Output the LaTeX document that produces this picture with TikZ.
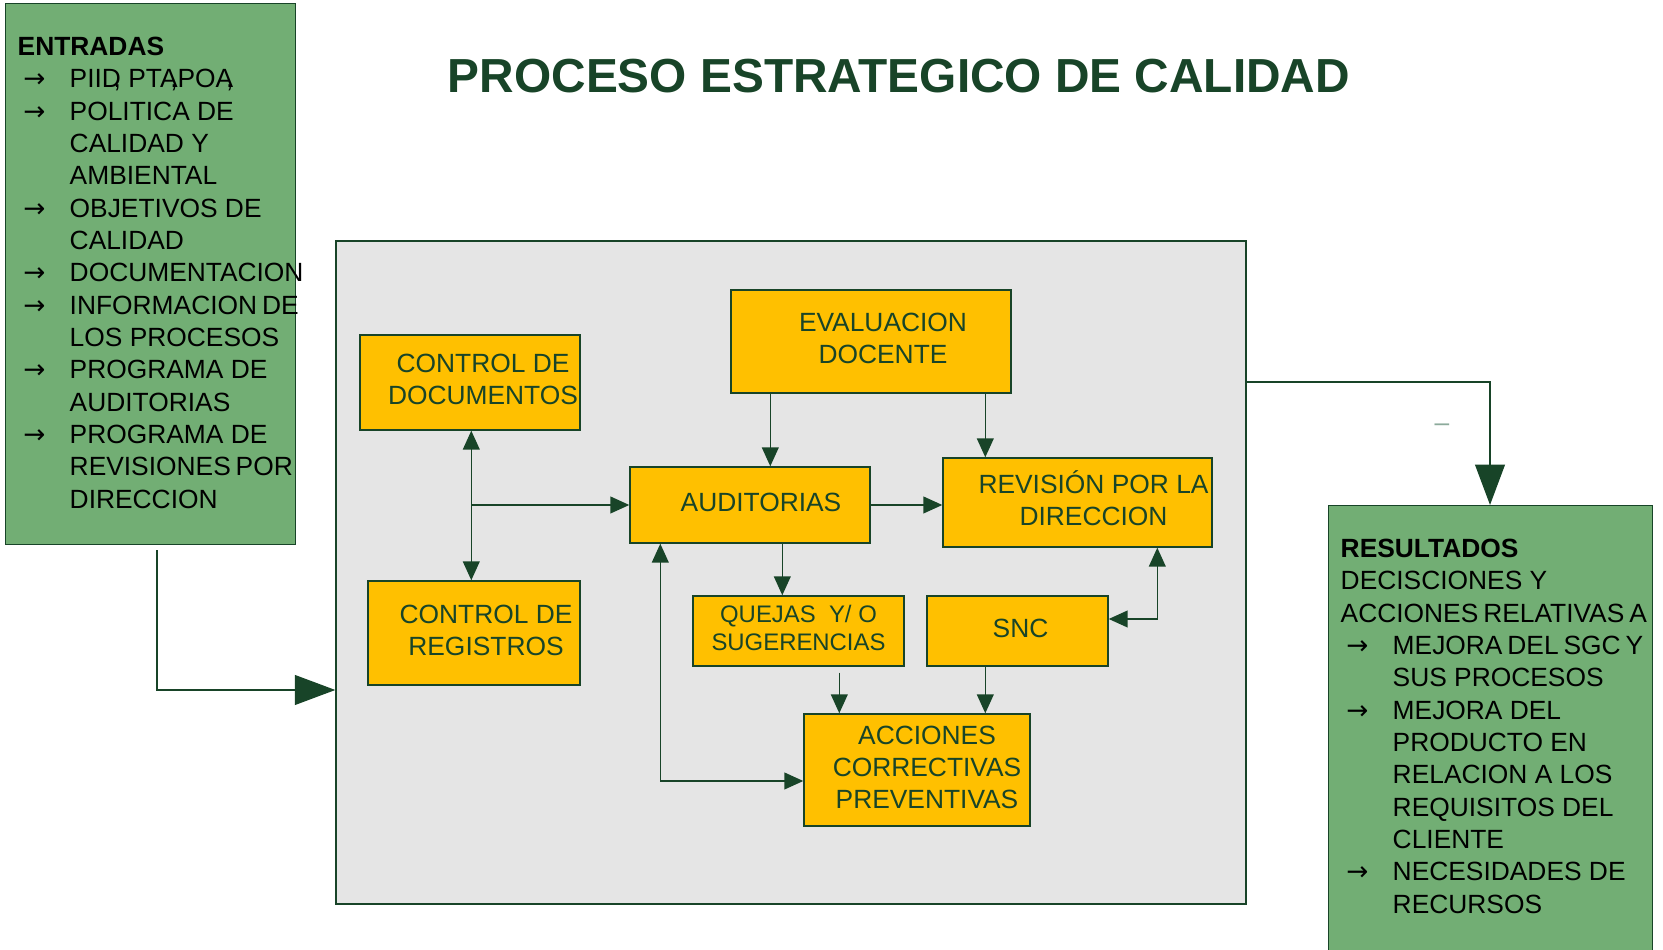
\documentclass[tikz,border=0pt]{standalone}
\usepackage{fontspec}
\setmainfont{Liberation Sans}
\newfontfamily\simbolos{DejaVu Sans}
\usetikzlibrary{arrows.meta}
\definecolor{verdeoscuro}{RGB}{24,68,40}
\definecolor{naranja}{RGB}{255,192,0}
\definecolor{verdecaja}{RGB}{114,174,116}
\definecolor{grisfondo}{RGB}{229,229,229}
\definecolor{grisguion}{RGB}{140,170,155}
\hyphenpenalty=10000
\newcommand{\flecha}{\makebox[14.8pt][l]{\hspace{1.6pt}{\simbolos →}}}
\newcommand{\sangria}{\hspace*{14.8pt}}
\newcommand{\texto}[2][0.24cm]{\hspace*{#1}\begin{tabular}{@{}c@{}}\rule{0pt}{\dimexpr 0.7\baselineskip+1.7pt\relax}#2\end{tabular}}

\begin{document}
\begin{tikzpicture}[
    >={Triangle[length=5.4pt,width=4.8pt]},
    caja/.style={draw=verdeoscuro, fill=naranja, line width=0.4pt, text=verdeoscuro, inner sep=0pt, font=\fontsize{7.5}{9.1}\selectfont},
    lista/.style={draw=verdeoscuro, fill=verdecaja, line width=0.4pt, anchor=north west, inner xsep=0.12cm, inner ysep=0.335cm, font=\fontsize{7.5}{9.2}\selectfont},
    conector/.style={draw=verdeoscuro, line width=0.4pt, ->},
    doble/.style={draw=verdeoscuro, line width=0.4pt, <->},
    grande/.style={draw=verdeoscuro, line width=0.4pt, -{Triangle[length=11.5pt,width=8.5pt]}}
  ]
  \useasboundingbox (0,0) rectangle (16.63,9.50);

  % 标题
  \node[font=\bfseries\fontsize{13.6}{16}\selectfont, text=verdeoscuro] (titulo) at (8.99,8.74) {PROCESO ESTRATEGICO DE CALIDAD};

  % 左侧 entradas
  \node[lista] (entradas) at (0.05,9.47) {\begin{minipage}[t][4.74cm][t]{2.66cm}
    \textbf{ENTRADAS}\\
    \flecha PIID\llap{,}~PTA\llap{,}POA\llap{,}\\
    \flecha POLITICA~DE\\
    \sangria CALIDAD~Y\\
    \sangria AMBIENTAL\\
    \flecha OBJETIVOS~DE\\
    \sangria CALIDAD\\
    \flecha DOCUMENTACION\\
    \flecha INFORMACION~DE\\
    \sangria LOS~PROCESOS\\
    \flecha PROGRAMA~DE\\
    \sangria AUDITORIAS\\
    \flecha PROGRAMA~DE\\
    \sangria REVISIONES~POR\\
    \sangria DIRECCION
  \end{minipage}};

  % 右侧 resultados
  \node[lista] (resultados) at (13.28,4.45) {\begin{minipage}[t][4.6cm][t]{3.0cm}
    \textbf{RESULTADOS}\\
    DECISCIONES~Y\\
    ACCIONES~RELATIVAS~A\\
    \flecha MEJORA~DEL~SGC~Y\\
    \sangria SUS~PROCESOS\\
    \flecha MEJORA~DEL\\
    \sangria PRODUCTO~EN\\
    \sangria RELACION~A~LOS\\
    \sangria REQUISITOS~DEL\\
    \sangria CLIENTE\\
    \flecha NECESIDADES~DE\\
    \sangria RECURSOS
  \end{minipage}};

  % 中间灰色框
  \node[draw=verdeoscuro, fill=grisfondo, line width=0.4pt, minimum width=9.10cm, minimum height=6.63cm] (proceso) at (7.91,3.775) {};

  % 橙色框
  \node[caja, minimum width=2.20cm, minimum height=0.95cm] (ctrldoc) at (4.70,5.675) {\texto[0.26cm]{CONTROL DE\\DOCUMENTOS}};
  \node[caja, minimum width=2.80cm, minimum height=1.03cm] (eval) at (8.71,6.085) {\texto{EVALUACION\\DOCENTE}};
  \node[caja, minimum width=2.40cm, minimum height=0.76cm] (aud) at (7.50,4.45) {\texto[0.22cm]{AUDITORIAS}};
  \node[caja, minimum width=2.69cm, minimum height=0.89cm] (rev) at (10.775,4.475) {\texto[0.32cm]{REVISIÓN POR LA\\DIRECCION}};
  \node[caja, minimum width=2.12cm, minimum height=1.04cm] (ctrlreg) at (4.74,3.17) {\texto{CONTROL DE\\REGISTROS}};
  \node[caja, minimum width=2.11cm, minimum height=0.70cm, font=\fontsize{6.8}{8}\selectfont] (quejas) at (7.985,3.19) {\texto[0cm]{QUEJAS~ Y/ O\\SUGERENCIAS}};
  \node[caja, minimum width=1.81cm, minimum height=0.70cm] (snc) at (10.175,3.19) {\texto[0.06cm]{SNC}};
  \node[caja, minimum width=2.26cm, minimum height=1.12cm] (acciones) at (9.17,1.80) {\texto[0.2cm]{ACCIONES\\CORRECTIVAS\\PREVENTIVAS}};

  \node[text=grisguion, font=\fontsize{7.5}{9}\selectfont] (guion) at (14.42,5.22) {--};

  % 连接线
  \draw[grande] ([xshift=1.52cm,yshift=-0.05cm]entradas.south west) |- ([yshift=-1.175cm]proceso.west);
  \draw[grande] ([yshift=1.905cm]proceso.east) -| ([xshift=1.62cm]resultados.north west);
  \draw[doble] ([xshift=1.12cm]ctrldoc.south west) -- ([xshift=1.12cm]ctrldoc.south west |- ctrlreg.north);
  \draw[conector] ([xshift=1.12cm]ctrldoc.south west |- aud.west) -- (aud.west);
  \draw[conector] ([xshift=0.4cm]eval.south west) -- ([xshift=0.4cm]eval.south west |- aud.north);
  \draw[conector] ([xshift=2.55cm]eval.south west) -- ([xshift=2.55cm]eval.south west |- rev.north);
  \draw[conector] (aud.east) -- (aud.east -| rev.west);
  \draw[conector] ([xshift=1.53cm]aud.south west) -- ([xshift=1.53cm]aud.south west |- quejas.north);
  \draw[conector] ([xshift=1.47cm,yshift=-0.06cm]quejas.south west) -- ([xshift=1.47cm]quejas.south west |- acciones.north);
  \draw[conector] ([xshift=0.59cm]snc.south west) -- ([xshift=0.59cm]snc.south west |- acciones.north);
  \draw[doble] ([xshift=2.15cm]rev.south west) |- ([yshift=0.12cm]snc.east);
  \draw[doble] ([xshift=0.31cm]aud.south west) |- ([yshift=-0.11cm]acciones.west);
\end{tikzpicture}
\end{document}
